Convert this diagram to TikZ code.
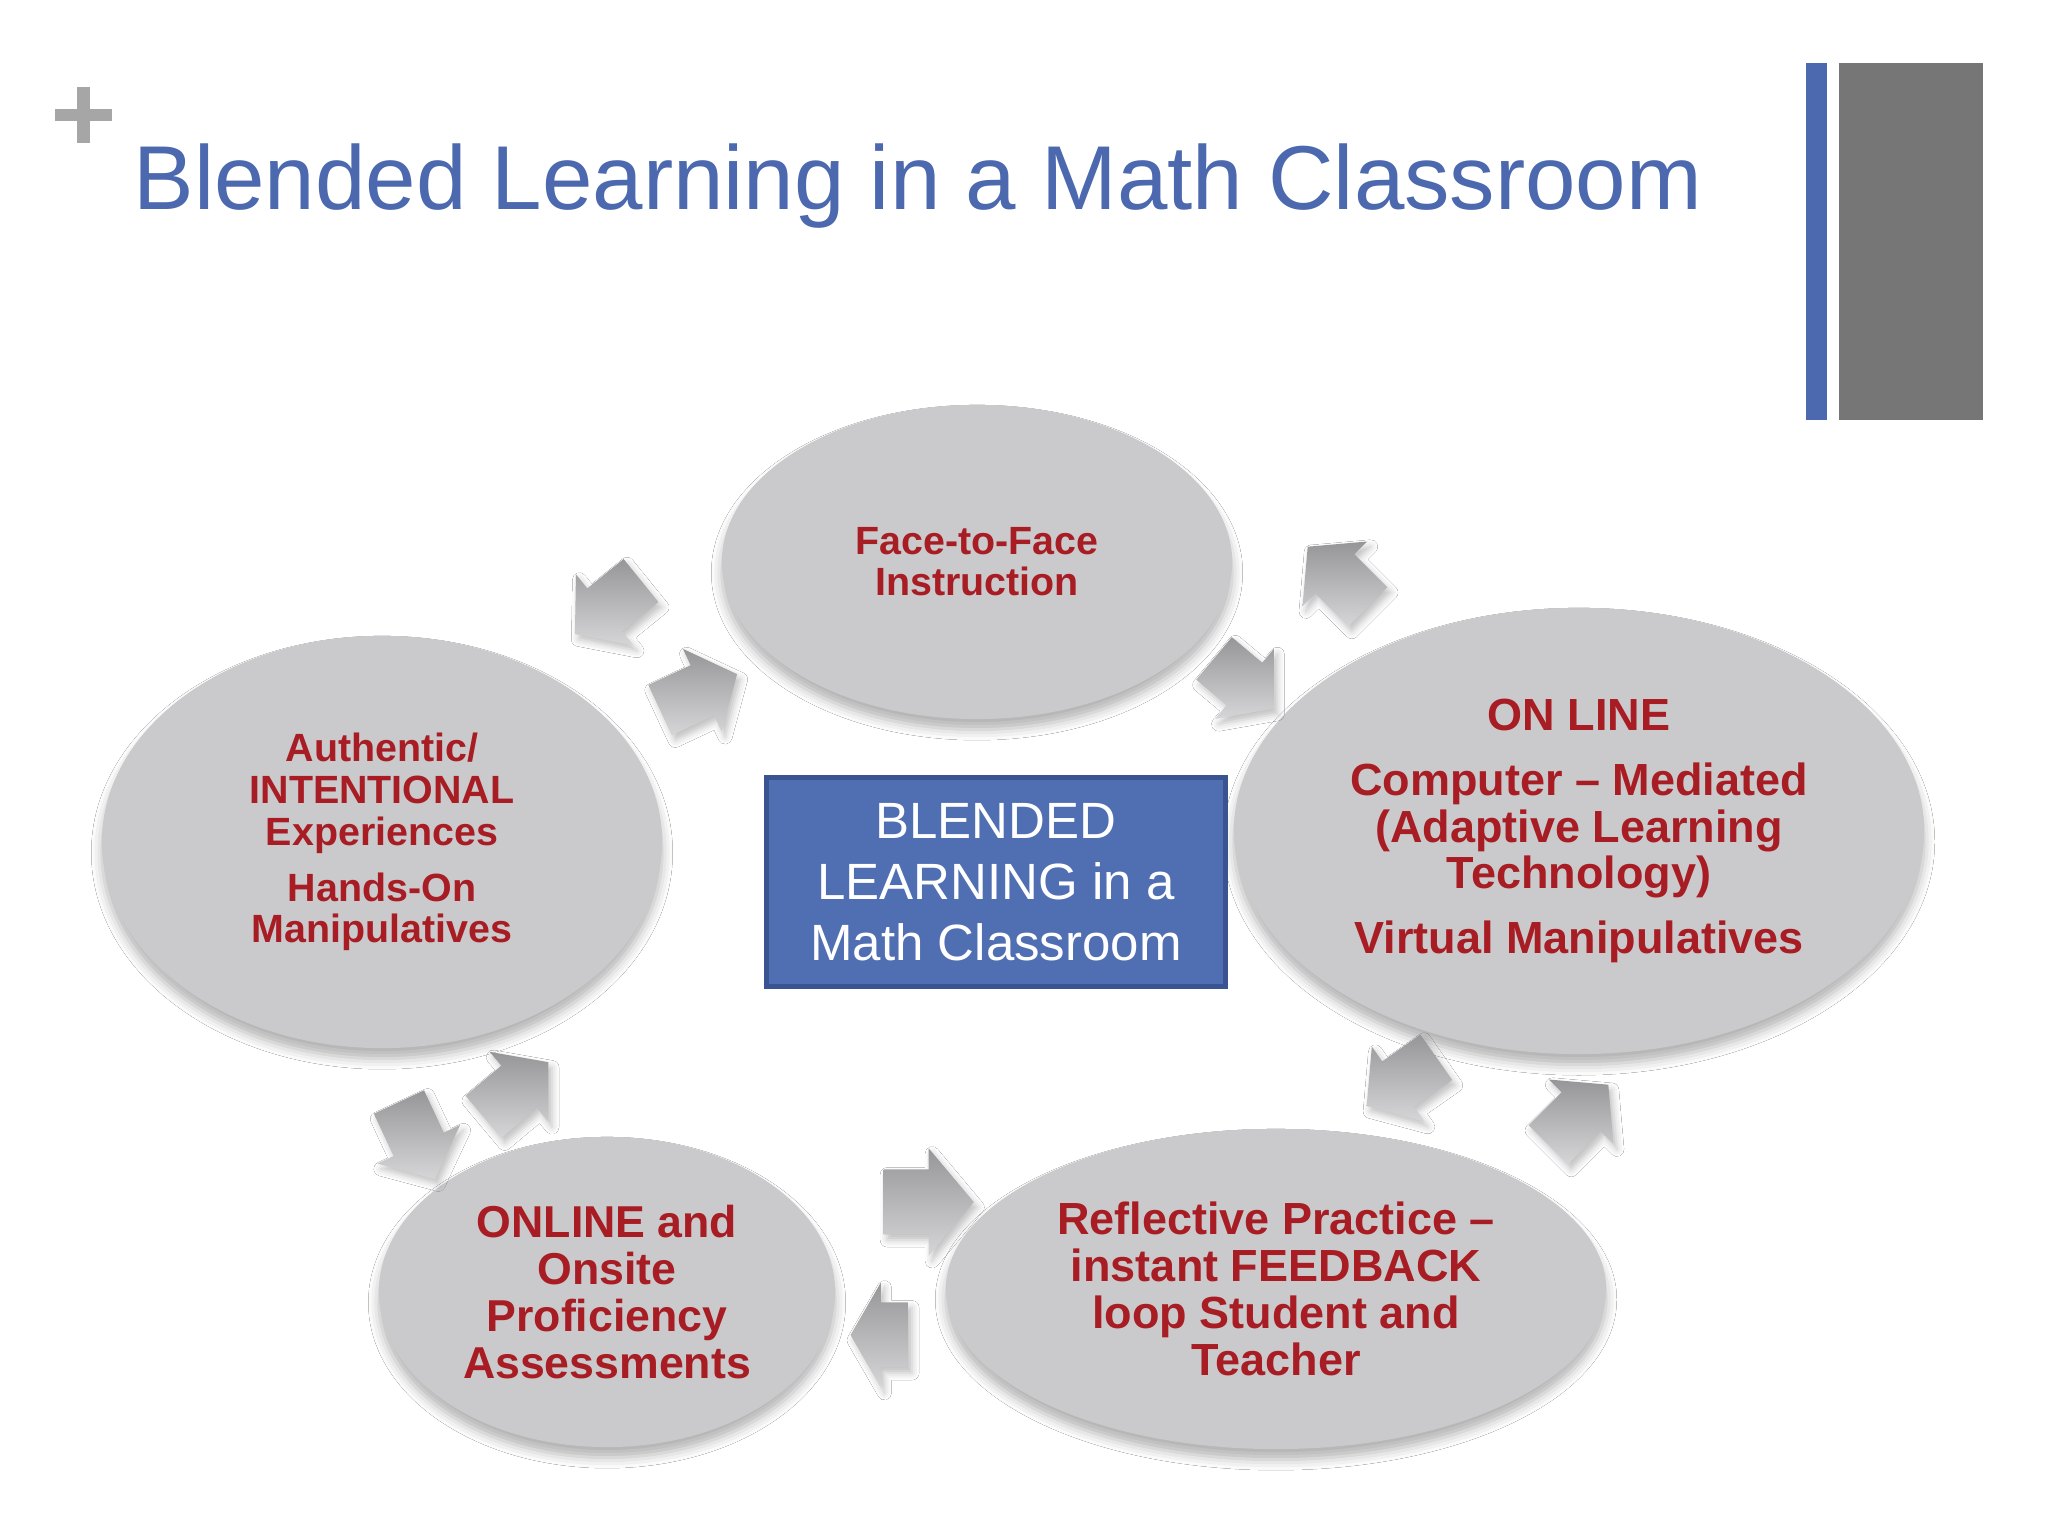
\documentclass[tikz,border=0pt]{standalone}
\usepackage{fontspec}
\setmainfont{Liberation Sans}
\usetikzlibrary{shapes.geometric,shapes.arrows,shadows.blur}

\definecolor{titleblue}{RGB}{76,104,174}
\definecolor{boxblue}{RGB}{80,110,178}
\definecolor{boxedge}{RGB}{58,84,145}
\definecolor{ovalgray}{RGB}{202,202,204}
\definecolor{textred}{RGB}{168,28,36}
\definecolor{plusgray}{RGB}{166,166,166}
\definecolor{bargray}{RGB}{118,118,118}
\definecolor{arrdark}{RGB}{150,150,152}
\definecolor{arrlight}{RGB}{214,214,216}

\newcommand{\fsz}[2]{\fontsize{#1}{#2}\selectfont}

\begin{document}
\begin{tikzpicture}[x=0.01cm,y=-0.01cm,
    oval/.style={ellipse,inner sep=0pt,fill=ovalgray,text=textred,
        align=center,
        blur shadow={shadow xshift=0pt,shadow yshift=-3pt,
            shadow blur radius=3pt,shadow opacity=30}},
    cyc/.style={single arrow,draw=none,minimum width=0pt,
        minimum height=0.85cm,inner xsep=0pt,inner ysep=0.27cm,
        text height=0pt,text depth=0pt,single arrow head extend=0.18cm,
        single arrow tip angle=100,top color=arrdark,bottom color=arrlight,
        blur shadow={shadow xshift=1pt,shadow yshift=-1.5pt,
            shadow blur radius=2pt,shadow opacity=25}},
    hub/.style={rectangle,fill=boxblue,draw=boxedge,line width=1.4pt,
        text=white,align=center,minimum width=4.58cm,minimum height=2.09cm,
        font=\fsz{14.5}{17.4}}
    ]
\useasboundingbox[fill=white] (0,0) rectangle (2048,1536);

% slide furniture
\draw[plusgray,line width=0.12cm] (55,115) -- (112,115) (83.5,87) -- (83.5,143);
\fill[titleblue] (1806,63) rectangle (1827,420);
\fill[bargray] (1839,63) rectangle (1983,420);
\node[anchor=base west,text=titleblue,inner sep=0pt,font=\fsz{25.8}{31}]
    (title) at (133,209) {Blended Learning in a Math Classroom};

% the five ovals
\node[oval,minimum width=5.10cm,minimum height=3.14cm,font=\bfseries\fsz{11.2}{11.6}]
    (ftf) at (977,562) {Face-to-Face\\Instruction};
\node[oval,minimum width=5.60cm,minimum height=4.12cm,font=\bfseries\fsz{11.2}{11.9}]
    (auth) at (382,842) {Authentic/\\INTENTIONAL\\Experiences\\[4pt]Hands-On\\Manipulatives};
\node[oval,minimum width=6.90cm,minimum height=4.46cm,font=\bfseries\fsz{12.8}{13.1}]
    (onl) at (1579,831) {ON LINE\\[5.5pt]Computer -- Mediated\\(Adaptive Learning\\Technology)\\[5.5pt]Virtual Manipulatives};
\node[oval,minimum width=4.56cm,minimum height=3.10cm,font=\bfseries\fsz{12.7}{13.3}]
    (asm) at (607,1292) {ONLINE and\\Onsite\\Proficiency\\Assessments};
\node[oval,minimum width=6.60cm,minimum height=3.20cm,font=\bfseries\fsz{12.8}{13.3}]
    (refl) at (1276,1289) {Reflective Practice --\\instant FEEDBACK\\loop Student and\\Teacher};

% centre box
\node[hub] (blend) at (996,882) {BLENDED\\LEARNING in a\\Math Classroom};

% arrows between the ovals
\node[cyc,rotate=219] (ftfauth) at (617,600) {};
\node[cyc,rotate=25] (authftf) at (688,697) {};
\node[cyc,rotate=135] (onlftf) at (1346,585) {};
\node[cyc,rotate=-40,minimum height=0.78cm] (ftfonl) at (1235,676) {};
\node[cyc,rotate=215] (onlrefl) at (1411,1075) {};
\node[cyc,rotate=45] (reflonl) at (1570,1123) {};
\node[cyc,rotate=0,inner ysep=0.32cm,single arrow head extend=0.21cm,minimum height=0.9cm] (asmrefl) at (915,1202) {};
\node[cyc,rotate=180,minimum height=0.58cm,inner ysep=0.32cm,single arrow head extend=0.2cm,single arrow tip angle=120] (reflasm) at (889,1335) {};
\node[cyc,rotate=-65] (authasm) at (412,1130) {};
\node[cyc,rotate=40] (asmauth) at (507,1097) {};
\end{tikzpicture}
\end{document}
